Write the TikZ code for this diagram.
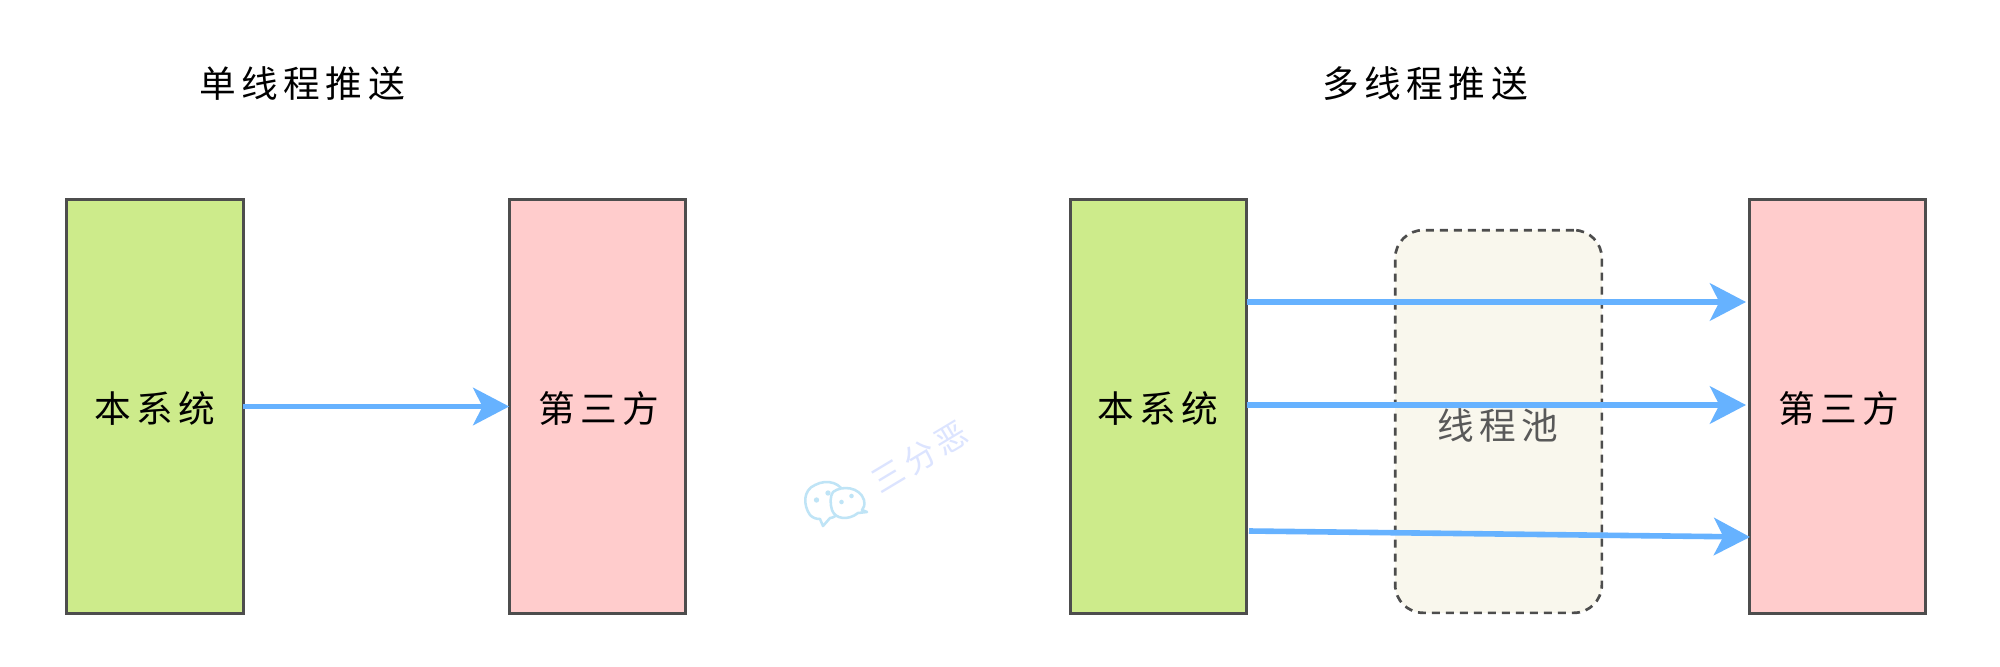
\documentclass[tikz,border=0pt]{standalone}
\usepackage{fontspec}
\usetikzlibrary{arrows.meta}
\newfontfamily\cjk[LetterSpace=15]{Noto Sans CJK SC}
\definecolor{boxline}{HTML}{4D4D4D}
\definecolor{greenfill}{HTML}{CDEB8B}
\definecolor{pinkfill}{HTML}{FFCCCC}
\definecolor{poolfill}{HTML}{F9F7ED}
\definecolor{arrowblue}{HTML}{66B2FF}
\definecolor{wmbubble}{HTML}{BFE4F6}
\definecolor{wmtext}{HTML}{DCE4FF}
\tikzset{
  sysbox/.style={draw=boxline,line width=2.4pt,minimum width=132.5pt,minimum height=310pt,outer sep=0pt,inner sep=0pt},
  greenbox/.style={sysbox,fill=greenfill},
  pinkbox/.style={sysbox,fill=pinkfill},
  poolbox/.style={draw=boxline,line width=2pt,dash pattern=on 6pt off 4.5pt,fill=poolfill,rounded corners=21pt,minimum width=155pt,minimum height=287pt,outer sep=0pt,inner sep=0pt},
  label/.style={font=\cjk\fontsize{27.5}{32}\selectfont,text=black,inner sep=0pt},
  flow/.style={draw=arrowblue,line width=4.2pt,-{Stealth[length=27pt,width=28pt,inset=7pt]}},
  wm/.style={draw=wmbubble,line width=1.9pt,fill=white,line join=round}
}
\begin{document}
\begin{tikzpicture}[x=0.75pt,y=-0.75pt]
\useasboundingbox (0,0) rectangle (2000,667);
\fill[white] (0,0) rectangle (2000,667);
% left group
\node[label] (t1) at (302,84) {单线程推送};
\node[greenbox] (a) at (155,406.5) {};
\node[pinkbox] (b) at (597.5,406.5) {};
\node[label] (atext) at (155,408) {本系统};
\node[label] (btext) at (599,408) {第三方};
\draw[flow] (a.east) -- (b.west);
% right group
\node[label] (t2) at (1425,84) {多线程推送};
\node[greenbox] (c) at (1158.5,406.5) {};
\node[pinkbox] (d) at (1837.5,406.5) {};
\node[poolbox] (p) at (1498.5,421.5) {};
\node[label,text=black!65] (ptext) at (1498,425) {线程池};
\node[label] (ctext) at (1158,408) {本系统};
\node[label] (dtext) at (1839,408) {第三方};
\coordinate (c1) at (1247,302);
\coordinate (d1) at (1746,302);
\coordinate (c2) at (1247,405);
\coordinate (d2) at (1746,405);
\coordinate (c3) at (1249,531);
\coordinate (d3) at (1750,537);
\draw[flow] (c1) -- (d1);
\draw[flow] (c2) -- (d2);
\draw[flow] (c3) -- (d3);
% watermark
\draw[wm] (810,515) .. controls (803,505) and (803,490) .. (815,485)
  .. controls (828,478) and (842,484) .. (844,494)
  .. controls (846,510) and (835,518) .. (830,518)
  -- (823,526) -- (820,519) .. controls (816,519) and (813,518) .. (810,515) -- cycle;
\draw[wm] (833,492) .. controls (842,485) and (860,487) .. (864,500)
  .. controls (865,505) and (864,508) .. (862,510) -- (867,512) -- (858,513)
  .. controls (848,521) and (835,519) .. (832,510)
  .. controls (830,504) and (830,496) .. (833,492) -- cycle;
\fill[wmbubble] (816.5,500) circle[radius=2pt] (828,493) circle[radius=2pt]
  (841.5,502) circle[radius=1.7pt] (851.5,496) circle[radius=1.7pt];
\node[inner sep=0pt,rotate=31,text=wmtext,font=\cjk\fontsize{24}{28}\selectfont] (w) at (920,457) {三分恶};
\end{tikzpicture}
\end{document}
